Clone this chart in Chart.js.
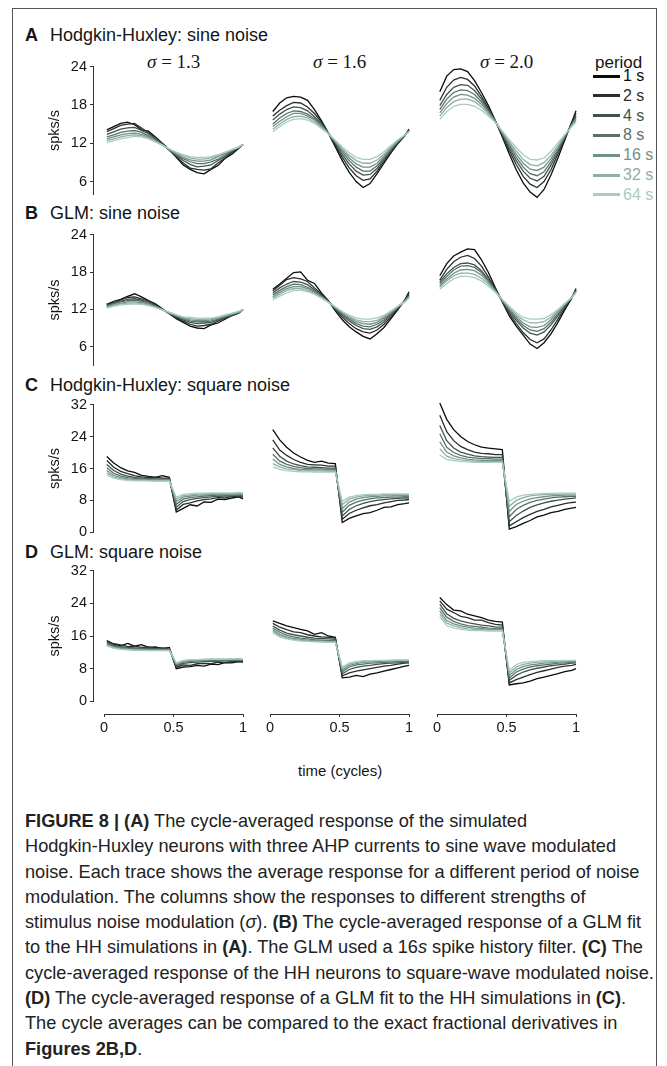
<!DOCTYPE html>
<html>
<head>
<meta charset="utf-8">
<script src="https://cdn.jsdelivr.net/npm/chart.js@4.4.0/dist/chart.umd.min.js"></script>
<style>
body { margin: 0; background: #fff; width: 667px; height: 1066px; overflow: hidden; position: relative;
       font-family: "Liberation Sans", Arial, sans-serif; color: #151515; }
canvas { position: absolute; }
.txt { position: absolute; white-space: nowrap; }
#frame { position: absolute; left: 12px; top: 8px; width: 643px; height: 1080px; border: 1px solid #555; }
.sigma { font-family: "Liberation Serif", "DejaVu Serif", serif; font-size: 19px; }
#caption { position: absolute; left: 25px; top: 809px; font-size: 18.2px; line-height: 25.3px; color: #222; white-space: nowrap; }
</style>
</head>
<body>
<div id="frame"></div>
<div id="caption">
<b>FIGURE 8 | (A)</b> The cycle-averaged response of the simulated<br>
Hodgkin-Huxley neurons with three AHP currents to sine wave modulated<br>
noise. Each trace shows the average response for a different period of noise<br>
modulation. The columns show the responses to different strengths of<br>
stimulus noise modulation (<i>σ</i>). <b>(B)</b> The cycle-averaged response of a GLM fit<br>
to the HH simulations in <b>(A)</b>. The GLM used a 16<i>s</i> spike history filter. <b>(C)</b> The<br>
cycle-averaged response of the HH neurons to square-wave modulated noise.<br>
<b>(D)</b> The cycle-averaged response of a GLM fit to the HH simulations in <b>(C)</b>.<br>
The cycle averages can be compared to the exact fractional derivatives in<br>
<b>Figures 2B,D</b>.
</div>
<script>
'use strict';

// ---- data ----
const TIME = [0.02, 0.07, 0.12, 0.17, 0.22, 0.27, 0.32, 0.37, 0.42, 0.47, 0.52,
              0.57, 0.62, 0.67, 0.72, 0.77, 0.82, 0.87, 0.92, 0.97, 1.0];
const PERIODS = ['1 s', '2 s', '4 s', '8 s', '16 s', '32 s', '64 s'];
const SIGMAS = ['1.3', '1.6', '2.0'];
const PANEL_LETTERS = ['A', 'B', 'C', 'D'];
const PANEL_NAMES = ['Hodgkin-Huxley: sine noise', 'GLM: sine noise',
                     'Hodgkin-Huxley: square noise', 'GLM: square noise'];
const Y_TICKS_SINE = [6, 12, 18, 24];
const Y_TICKS_SQUARE = [0, 8, 16, 24, 32];
const X_TICKS = [0, 0.5, 1];

// Hodgkin-Huxley, sine noise (rows: 1 s ... 64 s)
const HH_SINE_13 = [
    [14.1, 14.6, 15.1, 15.3, 14.9, 14.1, 13.9, 13.0, 12.0, 11.0, 9.8, 8.6, 7.9, 7.4, 7.2, 7.9, 8.5, 9.6, 10.3, 11.2, 11.8],
    [13.8, 14.3, 14.8, 15.0, 15.1, 14.4, 13.6, 12.9, 11.9, 10.9, 9.9, 8.9, 8.1, 7.9, 7.8, 8.0, 8.9, 9.7, 10.6, 11.3, 11.8],
    [13.4, 13.8, 14.2, 14.4, 14.5, 14.0, 13.5, 12.7, 11.9, 10.9, 10.1, 9.3, 8.7, 8.3, 8.4, 8.6, 9.3, 9.9, 10.8, 11.3, 11.8],
    [13.0, 13.3, 13.7, 13.9, 14.0, 13.7, 13.2, 12.6, 11.8, 11.0, 10.2, 9.6, 9.1, 8.8, 8.8, 9.1, 9.5, 10.2, 10.8, 11.4, 11.8],
    [12.7, 13.0, 13.3, 13.5, 13.6, 13.4, 13.0, 12.4, 11.7, 11.0, 10.4, 9.8, 9.4, 9.2, 9.2, 9.4, 9.9, 10.4, 10.9, 11.4, 11.8],
    [12.4, 12.7, 13.0, 13.2, 13.3, 13.2, 12.8, 12.3, 11.7, 11.1, 10.5, 10.1, 9.7, 9.5, 9.5, 9.7, 10.1, 10.5, 11.0, 11.4, 11.8],
    [12.1, 12.4, 12.7, 12.9, 13.1, 13.0, 12.7, 12.2, 11.7, 11.1, 10.6, 10.2, 9.9, 9.8, 9.8, 9.9, 10.2, 10.6, 11.0, 11.4, 11.8]
];
const HH_SINE_16 = [
    [16.9, 18.2, 19.0, 19.2, 19.1, 18.6, 17.2, 15.5, 13.6, 11.5, 9.4, 7.6, 6.2, 5.3, 5.9, 7.4, 9.0, 10.6, 12.0, 13.2, 14.2],
    [16.2, 17.1, 17.8, 18.3, 18.2, 17.6, 16.6, 15.3, 13.6, 11.8, 9.9, 8.3, 7.1, 6.4, 6.6, 7.8, 9.3, 10.8, 12.1, 13.3, 14.1],
    [15.6, 16.5, 17.2, 17.6, 17.5, 17.0, 16.1, 15.0, 13.6, 12.0, 10.3, 8.9, 7.8, 7.2, 7.3, 8.2, 9.6, 10.9, 12.2, 13.3, 14.0],
    [15.0, 15.9, 16.6, 17.0, 16.9, 16.5, 15.8, 14.8, 13.6, 12.2, 10.7, 9.4, 8.4, 7.8, 7.8, 8.6, 9.8, 11.1, 12.3, 13.3, 13.9],
    [14.6, 15.4, 16.1, 16.6, 16.6, 16.2, 15.6, 14.7, 13.6, 12.3, 11.0, 9.8, 8.9, 8.4, 8.4, 9.0, 10.1, 11.3, 12.4, 13.3, 13.9],
    [14.2, 15.0, 15.7, 16.1, 16.2, 15.9, 15.3, 14.5, 13.5, 12.4, 11.2, 10.2, 9.4, 9.0, 9.0, 9.5, 10.4, 11.5, 12.5, 13.3, 13.8],
    [13.8, 14.6, 15.3, 15.7, 15.8, 15.6, 15.1, 14.3, 13.5, 12.5, 11.5, 10.6, 9.9, 9.6, 9.6, 10.0, 10.8, 11.7, 12.6, 13.3, 13.8]
];
const HH_SINE_20 = [
    [19.9, 22.3, 23.3, 23.4, 23.0, 21.6, 19.8, 17.8, 15.5, 13.0, 10.4, 8.0, 6.0, 4.6, 3.8, 5.0, 7.2, 9.8, 12.6, 15.3, 17.0],
    [18.6, 20.6, 21.7, 22.1, 21.8, 20.8, 19.2, 17.4, 15.4, 13.2, 10.9, 8.8, 7.0, 5.8, 5.3, 6.2, 8.0, 10.4, 12.9, 15.2, 16.6],
    [17.8, 19.5, 20.6, 21.0, 20.9, 20.1, 18.8, 17.2, 15.4, 13.4, 11.3, 9.4, 7.8, 6.7, 6.3, 7.0, 8.7, 10.8, 13.0, 15.0, 16.2],
    [17.2, 18.8, 19.8, 20.2, 20.1, 19.5, 18.4, 17.0, 15.4, 13.6, 11.7, 9.9, 8.4, 7.4, 7.1, 7.7, 9.2, 11.1, 13.1, 14.9, 16.0],
    [16.7, 18.1, 19.1, 19.5, 19.4, 18.9, 18.0, 16.8, 15.3, 13.7, 12.0, 10.4, 9.0, 8.1, 7.9, 8.4, 9.7, 11.4, 13.2, 14.8, 15.7],
    [16.2, 17.5, 18.4, 18.8, 18.8, 18.4, 17.6, 16.5, 15.3, 13.8, 12.3, 10.9, 9.6, 8.8, 8.6, 9.1, 10.2, 11.7, 13.3, 14.7, 15.5],
    [15.7, 16.9, 17.7, 18.0, 18.0, 17.7, 17.1, 16.2, 15.2, 13.9, 12.6, 11.4, 10.3, 9.6, 9.5, 9.8, 10.8, 12.1, 13.4, 14.6, 15.3]
];

// GLM, sine noise
const GLM_SINE_13 = [
    [12.8, 13.3, 13.6, 14.1, 14.5, 14.0, 13.4, 12.9, 12.1, 11.3, 10.5, 9.9, 9.3, 9.0, 8.9, 9.5, 9.8, 10.4, 11.0, 11.4, 12.0],
    [12.8, 13.1, 13.5, 13.9, 14.0, 13.7, 13.3, 12.7, 12.0, 11.3, 10.7, 10.1, 9.6, 9.3, 9.4, 9.6, 10.1, 10.6, 11.0, 11.5, 11.9],
    [12.6, 13.0, 13.3, 13.6, 13.7, 13.5, 13.1, 12.6, 12.0, 11.4, 10.8, 10.3, 9.9, 9.7, 9.8, 9.9, 10.3, 10.7, 11.1, 11.5, 11.9],
    [12.5, 12.9, 13.2, 13.4, 13.5, 13.3, 13.0, 12.5, 12.0, 11.4, 10.9, 10.5, 10.1, 10.0, 10.0, 10.1, 10.4, 10.8, 11.2, 11.5, 11.9],
    [12.4, 12.7, 13.0, 13.2, 13.2, 13.1, 12.8, 12.4, 11.9, 11.4, 11.0, 10.6, 10.3, 10.2, 10.2, 10.3, 10.6, 10.9, 11.2, 11.6, 11.9],
    [12.3, 12.6, 12.9, 13.0, 13.0, 12.9, 12.7, 12.3, 11.9, 11.5, 11.1, 10.7, 10.5, 10.4, 10.4, 10.5, 10.7, 11.0, 11.3, 11.6, 11.9],
    [12.2, 12.5, 12.7, 12.8, 12.9, 12.8, 12.6, 12.3, 11.9, 11.5, 11.1, 10.8, 10.7, 10.6, 10.6, 10.6, 10.8, 11.1, 11.4, 11.7, 12.0]
];
const GLM_SINE_16 = [
    [15.2, 16.0, 16.9, 17.8, 17.9, 16.6, 16.1, 14.6, 13.4, 11.8, 10.4, 9.3, 8.5, 7.8, 7.4, 8.2, 9.2, 10.6, 12.0, 13.5, 14.8],
    [14.9, 15.8, 16.7, 17.0, 16.8, 16.4, 15.4, 14.4, 13.3, 12.0, 10.8, 9.8, 9.0, 8.5, 8.3, 8.8, 9.7, 10.9, 12.2, 13.4, 14.5],
    [14.6, 15.4, 16.0, 16.4, 16.3, 15.9, 15.1, 14.2, 13.3, 12.1, 11.1, 10.2, 9.5, 9.0, 8.9, 9.3, 10.1, 11.2, 12.3, 13.4, 14.3],
    [14.3, 15.0, 15.6, 16.0, 15.9, 15.5, 14.9, 14.1, 13.2, 12.2, 11.3, 10.5, 9.8, 9.4, 9.3, 9.7, 10.4, 11.4, 12.4, 13.3, 14.1],
    [14.0, 14.7, 15.3, 15.6, 15.6, 15.3, 14.7, 14.0, 13.2, 12.3, 11.5, 10.7, 10.1, 9.8, 9.7, 10.0, 10.7, 11.5, 12.5, 13.3, 14.0],
    [13.8, 14.4, 15.0, 15.3, 15.3, 15.0, 14.5, 13.9, 13.2, 12.4, 11.6, 10.9, 10.4, 10.1, 10.1, 10.3, 10.9, 11.7, 12.5, 13.2, 13.9],
    [13.5, 14.1, 14.6, 15.0, 15.0, 14.8, 14.4, 13.8, 13.1, 12.4, 11.7, 11.1, 10.7, 10.5, 10.5, 10.7, 11.1, 11.8, 12.5, 13.2, 13.8]
];
const GLM_SINE_20 = [
    [17.3, 19.2, 20.4, 21.0, 21.5, 21.4, 19.8, 17.8, 15.4, 13.2, 11.0, 9.4, 8.0, 6.6, 5.9, 6.8, 8.2, 10.0, 12.0, 13.8, 15.3],
    [16.6, 18.3, 19.5, 20.2, 20.5, 20.0, 18.8, 17.1, 15.2, 13.3, 11.4, 9.8, 8.4, 7.3, 6.8, 7.4, 8.8, 10.5, 12.3, 13.9, 15.1],
    [16.3, 17.6, 18.6, 19.2, 19.3, 19.0, 18.1, 16.7, 15.0, 13.3, 11.7, 10.3, 9.1, 8.3, 8.0, 8.5, 9.6, 11.0, 12.6, 13.9, 15.0],
    [16.0, 17.2, 18.2, 18.8, 18.9, 18.6, 17.8, 16.5, 15.0, 13.4, 11.9, 10.6, 9.5, 8.8, 8.6, 9.0, 10.0, 11.3, 12.7, 13.9, 14.9],
    [15.7, 16.8, 17.7, 18.2, 18.3, 18.1, 17.4, 16.3, 14.9, 13.5, 12.1, 10.9, 9.9, 9.3, 9.2, 9.5, 10.4, 11.6, 12.8, 13.9, 14.8],
    [15.5, 16.5, 17.3, 17.7, 17.7, 17.5, 16.9, 16.0, 14.8, 13.5, 12.3, 11.2, 10.4, 9.9, 9.9, 10.1, 10.8, 11.8, 12.9, 13.9, 14.7],
    [15.2, 16.1, 16.8, 17.2, 17.2, 17.0, 16.5, 15.7, 14.7, 13.6, 12.5, 11.5, 10.8, 10.5, 10.5, 10.6, 11.2, 12.0, 13.0, 13.9, 14.6]
];

// Hodgkin-Huxley, square noise
const HH_SQUARE_13 = [
    [19.0, 17.4, 16.2, 15.4, 15.0, 14.3, 14.0, 13.8, 14.2, 13.8, 5.1, 6.0, 6.9, 6.6, 7.6, 7.5, 8.3, 8.2, 8.6, 8.9, 8.4],
    [18.0, 16.3, 15.3, 14.7, 14.2, 13.9, 13.7, 13.8, 13.6, 13.6, 5.6, 7.0, 7.4, 7.9, 8.2, 8.4, 8.7, 8.6, 9.0, 9.0, 8.8],
    [17.0, 15.5, 14.6, 14.1, 13.8, 13.6, 13.5, 13.4, 13.4, 13.4, 6.3, 7.7, 8.2, 8.5, 8.7, 8.9, 9.0, 9.1, 9.1, 9.2, 9.1],
    [16.2, 14.8, 14.1, 13.7, 13.5, 13.4, 13.3, 13.3, 13.2, 13.2, 7.0, 8.3, 8.7, 8.9, 9.1, 9.2, 9.3, 9.3, 9.3, 9.4, 9.3],
    [15.5, 14.3, 13.7, 13.4, 13.3, 13.2, 13.1, 13.1, 13.1, 13.1, 7.7, 8.8, 9.1, 9.3, 9.4, 9.5, 9.5, 9.5, 9.6, 9.6, 9.5],
    [14.9, 13.9, 13.4, 13.2, 13.1, 13.0, 13.0, 13.0, 13.0, 13.0, 8.3, 9.2, 9.4, 9.5, 9.6, 9.7, 9.7, 9.7, 9.7, 9.8, 9.7],
    [14.4, 13.6, 13.2, 13.0, 12.9, 12.9, 12.9, 12.8, 12.8, 12.8, 8.8, 9.5, 9.7, 9.8, 9.8, 9.9, 9.9, 9.9, 9.9, 10.0, 9.9]
];
const HH_SQUARE_16 = [
    [25.5, 23.0, 21.2, 19.8, 18.8, 18.0, 17.5, 17.8, 17.3, 17.2, 2.8, 3.8, 4.4, 5.0, 5.2, 5.8, 6.5, 6.6, 7.2, 7.4, 7.6],
    [23.0, 20.5, 19.2, 18.2, 17.5, 17.0, 16.9, 16.8, 16.6, 16.6, 3.6, 5.0, 5.8, 6.4, 6.9, 7.2, 7.6, 7.9, 8.2, 8.3, 8.4],
    [21.0, 19.0, 17.8, 17.1, 16.7, 16.4, 16.3, 16.2, 16.1, 16.1, 4.4, 6.0, 6.9, 7.5, 7.9, 8.2, 8.4, 8.6, 8.7, 8.8, 8.8],
    [19.5, 17.8, 17.0, 16.5, 16.2, 16.0, 15.9, 15.9, 15.8, 15.8, 5.3, 7.0, 7.8, 8.3, 8.6, 8.8, 8.9, 9.0, 9.0, 9.1, 9.1],
    [18.3, 17.0, 16.4, 16.0, 15.8, 15.7, 15.6, 15.6, 15.6, 15.6, 6.2, 7.8, 8.5, 8.9, 9.1, 9.2, 9.3, 9.3, 9.4, 9.4, 9.4],
    [17.2, 16.4, 15.9, 15.7, 15.5, 15.4, 15.4, 15.4, 15.3, 15.3, 7.2, 8.5, 9.0, 9.3, 9.4, 9.5, 9.6, 9.6, 9.6, 9.6, 9.6],
    [16.4, 15.8, 15.5, 15.3, 15.2, 15.2, 15.1, 15.1, 15.1, 15.1, 8.0, 9.0, 9.4, 9.6, 9.7, 9.7, 9.8, 9.8, 9.8, 9.8, 9.8]
];
const HH_SQUARE_20 = [
    [32.0, 28.0, 25.5, 23.8, 22.6, 21.8, 21.2, 21.0, 20.8, 20.6, 1.2, 1.8, 2.6, 3.3, 4.2, 4.6, 5.2, 5.5, 6.0, 6.3, 6.5],
    [29.0, 25.0, 22.8, 21.4, 20.6, 20.0, 19.7, 19.6, 19.4, 19.4, 2.0, 3.0, 4.0, 4.8, 5.5, 6.0, 6.6, 7.0, 7.4, 7.7, 7.8],
    [26.5, 22.8, 21.0, 20.0, 19.5, 19.1, 18.9, 18.8, 18.7, 18.7, 3.0, 4.5, 5.6, 6.5, 7.1, 7.6, 8.0, 8.3, 8.5, 8.7, 8.8],
    [24.5, 21.2, 19.9, 19.2, 18.8, 18.6, 18.4, 18.4, 18.3, 18.3, 4.2, 6.0, 7.0, 7.7, 8.2, 8.5, 8.8, 9.0, 9.1, 9.2, 9.2],
    [22.5, 20.0, 19.1, 18.6, 18.3, 18.1, 18.0, 18.0, 17.9, 17.9, 5.5, 7.2, 8.0, 8.6, 8.9, 9.1, 9.3, 9.4, 9.5, 9.5, 9.5],
    [20.8, 19.0, 18.4, 18.1, 17.9, 17.8, 17.7, 17.7, 17.7, 17.7, 6.8, 8.2, 8.9, 9.3, 9.5, 9.6, 9.7, 9.7, 9.8, 9.8, 9.8],
    [19.3, 18.2, 17.9, 17.7, 17.6, 17.5, 17.5, 17.5, 17.5, 17.5, 8.0, 9.0, 9.5, 9.7, 9.8, 9.9, 9.9, 10.0, 10.0, 10.0, 10.0]
];

// GLM, square noise
const GLM_SQUARE_13 = [
    [14.9, 14.0, 13.6, 14.2, 13.5, 13.9, 13.2, 13.3, 12.9, 13.2, 8.0, 8.4, 8.5, 8.8, 8.6, 9.1, 9.0, 9.5, 9.4, 9.7, 9.6],
    [14.6, 14.1, 13.8, 13.4, 13.5, 13.2, 13.3, 13.0, 13.1, 12.9, 8.3, 8.9, 8.8, 9.2, 9.3, 9.2, 9.6, 9.5, 9.8, 9.7, 9.8],
    [14.4, 13.7, 13.4, 13.2, 13.1, 13.0, 13.0, 12.9, 12.8, 12.9, 8.6, 9.3, 9.5, 9.6, 9.7, 9.8, 9.8, 9.9, 9.9, 10.0, 10.0],
    [14.1, 13.5, 13.2, 13.0, 12.9, 12.8, 12.8, 12.7, 12.7, 12.7, 8.9, 9.6, 9.8, 9.9, 10.0, 10.0, 10.0, 10.1, 10.1, 10.1, 10.1],
    [13.9, 13.3, 13.0, 12.8, 12.7, 12.7, 12.6, 12.6, 12.6, 12.6, 9.1, 9.8, 10.0, 10.1, 10.1, 10.2, 10.2, 10.2, 10.2, 10.3, 10.2],
    [13.7, 13.1, 12.8, 12.7, 12.6, 12.5, 12.5, 12.5, 12.5, 12.5, 9.3, 9.9, 10.1, 10.2, 10.2, 10.3, 10.3, 10.3, 10.3, 10.4, 10.3],
    [13.6, 13.0, 12.7, 12.6, 12.5, 12.5, 12.4, 12.4, 12.4, 12.4, 9.4, 10.0, 10.2, 10.2, 10.3, 10.3, 10.3, 10.3, 10.4, 10.4, 10.3]
];
const GLM_SQUARE_16 = [
    [19.6, 19.0, 18.4, 18.0, 17.6, 17.2, 16.4, 16.8, 16.0, 15.7, 6.0, 6.2, 6.6, 6.3, 6.9, 7.2, 7.6, 8.0, 8.4, 8.8, 9.0],
    [19.0, 18.1, 17.5, 17.0, 16.8, 16.3, 16.0, 15.8, 15.7, 15.5, 6.5, 7.2, 7.6, 7.9, 8.2, 8.5, 8.8, 9.0, 9.3, 9.5, 9.6],
    [18.4, 17.4, 16.7, 16.3, 16.0, 15.7, 15.5, 15.4, 15.3, 15.2, 7.0, 8.0, 8.5, 8.8, 9.0, 9.2, 9.4, 9.5, 9.6, 9.7, 9.8],
    [17.9, 16.9, 16.2, 15.8, 15.5, 15.3, 15.1, 15.0, 14.9, 14.9, 7.5, 8.6, 9.1, 9.3, 9.5, 9.6, 9.7, 9.8, 9.9, 9.9, 10.0],
    [17.5, 16.4, 15.8, 15.4, 15.2, 15.0, 14.9, 14.8, 14.7, 14.7, 7.9, 9.0, 9.4, 9.7, 9.8, 9.9, 10.0, 10.0, 10.1, 10.1, 10.1],
    [17.1, 16.1, 15.5, 15.2, 15.0, 14.8, 14.7, 14.6, 14.6, 14.6, 8.3, 9.3, 9.7, 9.9, 10.0, 10.1, 10.1, 10.2, 10.2, 10.2, 10.2],
    [16.8, 15.8, 15.3, 15.0, 14.8, 14.7, 14.6, 14.6, 14.5, 14.5, 8.6, 9.6, 9.9, 10.1, 10.1, 10.2, 10.2, 10.2, 10.3, 10.3, 10.3]
];
const GLM_SQUARE_20 = [
    [25.2, 23.5, 22.2, 22.0, 21.2, 20.8, 20.4, 19.8, 19.5, 19.3, 4.3, 4.6, 4.8, 5.2, 5.8, 6.2, 6.6, 7.0, 7.5, 7.8, 8.2],
    [24.4, 22.4, 21.6, 20.7, 20.4, 19.8, 19.8, 19.2, 18.8, 18.6, 4.8, 5.6, 6.2, 6.8, 7.3, 7.7, 8.1, 8.5, 8.8, 9.0, 9.2],
    [23.6, 21.3, 20.2, 19.6, 19.2, 18.9, 18.6, 18.4, 18.2, 18.1, 5.4, 6.6, 7.4, 7.9, 8.3, 8.6, 8.9, 9.1, 9.3, 9.5, 9.6],
    [22.8, 20.5, 19.5, 18.9, 18.5, 18.3, 18.1, 17.9, 17.8, 17.8, 6.0, 7.4, 8.1, 8.6, 8.9, 9.1, 9.3, 9.5, 9.6, 9.7, 9.8],
    [22.0, 19.7, 18.9, 18.4, 18.1, 17.9, 17.8, 17.6, 17.6, 17.5, 6.6, 8.0, 8.7, 9.1, 9.3, 9.5, 9.6, 9.7, 9.8, 9.9, 9.9],
    [21.3, 19.1, 18.4, 18.0, 17.7, 17.6, 17.5, 17.4, 17.4, 17.4, 7.2, 8.6, 9.2, 9.5, 9.7, 9.8, 9.9, 10.0, 10.0, 10.1, 10.1],
    [20.6, 18.5, 17.9, 17.6, 17.4, 17.3, 17.3, 17.2, 17.2, 17.2, 7.8, 9.2, 9.7, 9.9, 10.0, 10.1, 10.1, 10.1, 10.2, 10.2, 10.2]
];

const ROW_DATA = [
    [HH_SINE_13, HH_SINE_16, HH_SINE_20],
    [GLM_SINE_13, GLM_SINE_16, GLM_SINE_20],
    [HH_SQUARE_13, HH_SQUARE_16, HH_SQUARE_20],
    [GLM_SQUARE_13, GLM_SQUARE_16, GLM_SQUARE_20]
];
const ROW_Y_RANGE = [[4, 24], [3, 24], [0, 32], [0, 32]];
const ROW_Y_TICKS = [Y_TICKS_SINE, Y_TICKS_SINE, Y_TICKS_SQUARE, Y_TICKS_SQUARE];

// ---- layout / style ----
const COLORS = ['#0b0b0b', '#27302d', '#3f524c', '#587168', '#719088', '#8eaea8', '#a9cbc5'];
const FONT = '"Liberation Sans", Arial, sans-serif';
const AXIS_COLOR = '#333';
const COL_LEFT = [93, 259, 426];       // left edge of each plot area (y-axis line)
const AXIS_GAP = 11;                   // gap between y-axis and t = 0
const AREA_W = 150;
const X_MIN = -AXIS_GAP / (AREA_W - AXIS_GAP);
const ROW_TOP = [65, 233, 403, 569];
const ROW_BOTTOM = [196, 367, 534, 703];
const TITLE_Y = [35, 213, 385, 552];
const X_AXIS_Y = 714;
const Y_AXIS_W = 53;

function add_canvas(left, top, width, height) {
    const c = document.createElement('canvas');
    c.width = width;
    c.height = height;
    c.style.left = left + 'px';
    c.style.top = top + 'px';
    c.style.width = width + 'px';
    c.style.height = height + 'px';
    document.body.appendChild(c);
    return c;
}

function add_text(html, x, y, size, extra) {
    const d = document.createElement('div');
    d.className = 'txt';
    d.innerHTML = html;
    d.style.left = x + 'px';
    d.style.top = (y - size / 2) + 'px';
    d.style.fontSize = size + 'px';
    d.style.lineHeight = size + 'px';
    Object.assign(d.style, extra || {});
    document.body.appendChild(d);
    return d;
}

function make_panel(row, col) {
    const show_y = col === 0;
    const pad_left = show_y ? 0 : 4;
    const left = COL_LEFT[col] - (show_y ? Y_AXIS_W : pad_left);
    const width = (show_y ? Y_AXIS_W : pad_left) + AREA_W + 4;
    const top = ROW_TOP[row] - 10;
    const height = ROW_BOTTOM[row] - ROW_TOP[row] + 20;
    const canvas = add_canvas(left, top, width, height);

    const datasets = ROW_DATA[row][col].map((values, i) => ({
        label: PERIODS[i],
        data: values.map((v, k) => ({x: TIME[k], y: v})),
        borderColor: COLORS[i],
        borderWidth: 1.3,
        pointRadius: 0,
        tension: 0,
        clip: false,
        order: PERIODS.length - 1 - i
    }));

    const y_scale = {
        min: ROW_Y_RANGE[row][0],
        max: ROW_Y_RANGE[row][1],
        display: show_y,
        afterBuildTicks: s => { s.ticks = ROW_Y_TICKS[row].map(v => ({value: v})); },
        ticks: {font: {family: FONT, size: 14.5}, color: '#151515', padding: 3},
        grid: {drawOnChartArea: false, drawTicks: true, tickLength: 3, color: AXIS_COLOR},
        border: {display: true, color: AXIS_COLOR, width: 1},
        title: {display: true, text: 'spks/s', font: {family: FONT, size: 14.5},
                color: '#151515', padding: {top: 6, bottom: 0}}
    };
    if (show_y) {
        y_scale.afterFit = s => { s.width = Y_AXIS_W; };
    }

    new Chart(canvas, {
        type: 'line',
        data: {datasets: datasets},
        options: {
            responsive: false,
            animation: false,
            devicePixelRatio: 1,
            layout: {padding: {top: 10, bottom: 10, left: pad_left, right: 4}},
            plugins: {legend: {display: false}, tooltip: {enabled: false}},
            scales: {
                x: {type: 'linear', min: X_MIN, max: 1, display: false},
                y: y_scale
            }
        }
    });
}

function make_x_axis(col) {
    const x0 = COL_LEFT[col] + AXIS_GAP;
    const canvas = add_canvas(x0 - 12, X_AXIS_Y - 3, AREA_W - AXIS_GAP + 24, 33);
    new Chart(canvas, {
        type: 'line',
        data: {datasets: []},
        options: {
            responsive: false,
            animation: false,
            devicePixelRatio: 1,
            layout: {padding: {top: 2, bottom: 0, left: 12, right: 12}},
            plugins: {legend: {display: false}, tooltip: {enabled: false}},
            scales: {
                x: {
                    type: 'linear', min: 0, max: 1,
                    afterBuildTicks: s => { s.ticks = X_TICKS.map(v => ({value: v})); },
                    afterFit: s => { s.height = 30; },
                    ticks: {font: {family: FONT, size: 14.5}, color: '#151515', padding: 2,
                            maxRotation: 0, callback: v => String(v)},
                    grid: {drawOnChartArea: false, drawTicks: true, tickLength: 3, color: AXIS_COLOR},
                    border: {display: true, color: AXIS_COLOR, width: 1}
                },
                y: {display: false, min: 0, max: 1}
            }
        }
    });
}

// panel titles
PANEL_LETTERS.forEach((letter, i) => {
    add_text('<b>' + letter + '</b>', 25, TITLE_Y[i], 18);
    add_text(PANEL_NAMES[i], 50, TITLE_Y[i], 18);
});

// column headers
SIGMAS.forEach((s, col) => {
    const d = add_text('<i>σ</i>&nbsp;=&nbsp;' + s, 0, 61, 19);
    d.classList.add('sigma');
    const center = COL_LEFT[col] + AXIS_GAP + (AREA_W - AXIS_GAP) / 2;
    d.style.left = (center - d.offsetWidth / 2) + 'px';
});

// legend
add_text('period', 595, 62, 17);
PERIODS.forEach((p, i) => {
    const y = 76 + i * 19.8;
    const line = document.createElement('div');
    Object.assign(line.style, {position: 'absolute', left: '593px', top: (y - 1.5) + 'px',
                               width: '27px', height: '3px', background: COLORS[i]});
    document.body.appendChild(line);
    add_text(p, 623, y, 16, {color: COLORS[i]});
});

for (let row = 0; row < 4; row++) {
    for (let col = 0; col < 3; col++) {
        make_panel(row, col);
    }
}
for (let col = 0; col < 3; col++) {
    make_x_axis(col);
}

const xlab = add_text('time (cycles)', 0, 770, 15);
xlab.style.left = (340 - xlab.offsetWidth / 2) + 'px';
</script>
</body>
</html>
